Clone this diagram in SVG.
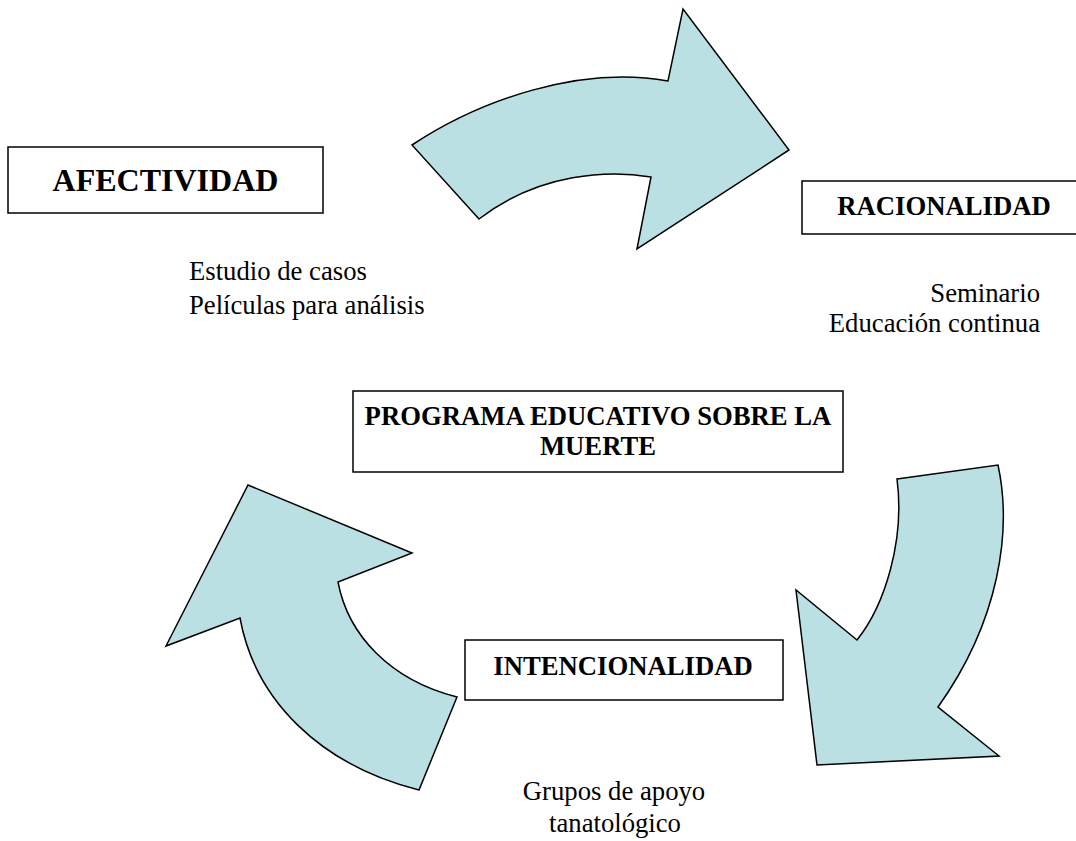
<svg xmlns="http://www.w3.org/2000/svg" width="1076" height="841" viewBox="0 0 1076 841">
<style>
.arrow{fill:#BBE0E3;stroke:#000;stroke-width:1.5;stroke-linejoin:miter}
.box{fill:#fff;stroke:#000;stroke-width:1.5}
.b{font-family:"Liberation Serif","Times New Roman",serif;font-weight:bold;font-size:26.7px;fill:#000}
.r{font-family:"Liberation Serif","Times New Roman",serif;font-size:26.7px;fill:#000}
</style>
<rect width="1076" height="841" fill="#fff"/>
<g id="connectors">
<path id="arrow-top" class="arrow" d="M412,145 C480,100 580,65 668,81 L683,9 L789,150 L637,249 L651,177 C610,170 540,172 479,219 Z"/>
<path id="arrow-right" class="arrow" d="M897,479 L998,465 C1012,530 1000,620 938,707 L999,756 L817,765 L796,590 L857,640 C885,605 905,540 897,479 Z"/>
<path id="arrow-left" class="arrow" d="M457,697 L419,790 C320,765 255,700 240,618 L166,646 L248,485 L412,553 L338,582 C348,635 390,680 457,697 Z"/>
</g>
<g id="afectividad">
<rect class="box" x="8" y="147" width="315" height="66"/>
<text class="b" x="165.5" y="191" text-anchor="middle" style="font-size:32px">AFECTIVIDAD</text>
</g>
<g id="afectividad-notes">
<text class="r" x="189" y="280">Estudio de casos</text>
<text class="r" x="189" y="314">Películas para análisis</text>
</g>
<g id="racionalidad">
<rect class="box" x="802" y="181" width="290" height="53"/>
<text class="b" x="944" y="215" text-anchor="middle">RACIONALIDAD</text>
</g>
<g id="racionalidad-notes">
<text class="r" x="1040" y="302" text-anchor="end">Seminario</text>
<text class="r" x="1040" y="332" text-anchor="end">Educación continua</text>
</g>
<g id="programa">
<rect class="box" x="353" y="391" width="490" height="81"/>
<text class="b" x="598" y="425" text-anchor="middle">PROGRAMA EDUCATIVO SOBRE LA</text>
<text class="b" x="598" y="455" text-anchor="middle">MUERTE</text>
</g>
<g id="intencionalidad">
<rect class="box" x="465" y="640" width="318" height="60"/>
<text class="b" x="623" y="675" text-anchor="middle">INTENCIONALIDAD</text>
</g>
<g id="intencionalidad-notes">
<text class="r" x="614" y="800" text-anchor="middle">Grupos de apoyo</text>
<text class="r" x="615" y="832" text-anchor="middle">tanatológico</text>
</g>
</svg>
